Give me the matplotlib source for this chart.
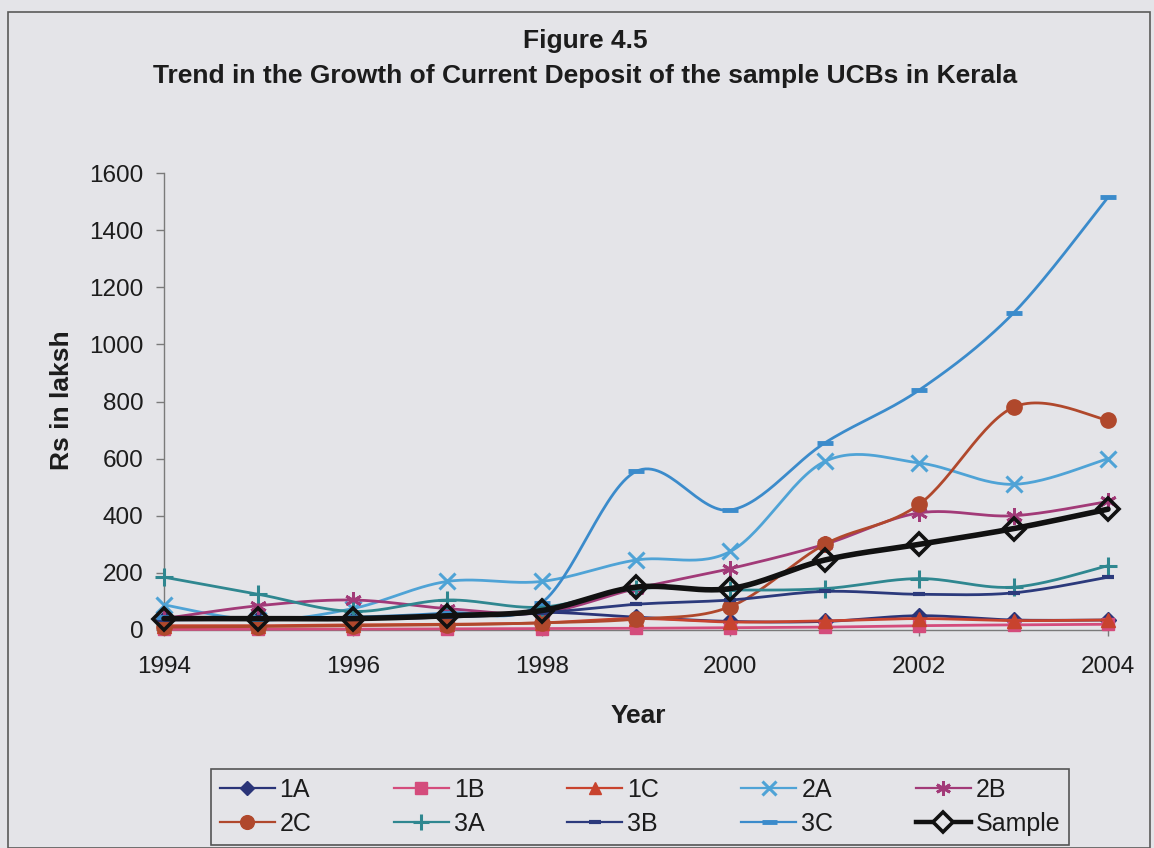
import numpy as np
import matplotlib
matplotlib.use("Agg")
import matplotlib.pyplot as plt
from matplotlib.lines import Line2D
from matplotlib.patches import Rectangle

plt.rcParams['font.family'] = ['Liberation Sans', 'DejaVu Sans']

# ---- data (Rs in laksh) ----
years = [1994, 1995, 1996, 1997, 1998, 1999, 2000, 2001, 2002, 2003, 2004]
bank_1A = [40, 40, 40, 45, 62, 45, 30, 30, 50, 35, 35]
bank_1B = [2, 3, 3, 4, 5, 6, 8, 10, 15, 18, 20]
bank_1C = [15, 15, 18, 20, 25, 40, 28, 32, 40, 33, 35]
bank_2A = [88, 35, 75, 170, 170, 245, 275, 590, 585, 510, 600]
bank_2B = [40, 85, 105, 75, 60, 145, 215, 300, 410, 400, 450]
bank_2C = [10, 12, 15, 18, 25, 38, 82, 300, 440, 780, 735]
bank_3A = [185, 125, 65, 105, 80, 145, 140, 145, 180, 150, 225]
bank_3B = [35, 38, 40, 45, 60, 90, 105, 135, 125, 130, 185]
bank_3C = [45, 40, 45, 60, 95, 555, 420, 655, 840, 1110, 1515]
sample = [40, 40, 40, 50, 68, 150, 145, 245, 300, 355, 423]

series_names = ["1A", "1B", "1C", "2A", "2B", "2C", "3A", "3B", "3C", "Sample"]
series_values = [bank_1A, bank_1B, bank_1C, bank_2A, bank_2B, bank_2C,
                 bank_3A, bank_3B, bank_3C, sample]

y_ticks = [0, 200, 400, 600, 800, 1000, 1200, 1400, 1600]
x_ticks = [1994, 1996, 1998, 2000, 2002, 2004]

title_line1 = "Figure 4.5"
title_line2 = "Trend in the Growth of Current Deposit of the sample UCBs in Kerala"

# ---- styles ----
asterisk = (6, 2, 0)
styles = {
    "1A": dict(color='#2a3478', marker='D', ms=8, mfc='#2a3478', mec='#2a3478', mew=1, lw=2.0),
    "1B": dict(color='#d44c7c', marker='s', ms=9, mfc='#d44c7c', mec='#d44c7c', mew=1, lw=2.0),
    "1C": dict(color='#c8432e', marker='^', ms=10, mfc='#c8432e', mec='#c8432e', mew=1, lw=2.0),
    "2A": dict(color='#4fa3d6', marker='x', ms=11, mfc='none', mec='#4fa3d6', mew=2.2, lw=2.0),
    "2B": dict(color='#a23a78', marker=asterisk, ms=12, mfc='none', mec='#a23a78', mew=2.0, lw=2.0),
    "2C": dict(color='#b0482c', marker='o', ms=11, mfc='#b0482c', mec='#b0482c', mew=1, lw=2.0),
    "3A": dict(color='#2f8790', marker='+', ms=13, mfc='none', mec='#2f8790', mew=2.2, lw=2.0),
    "3B": dict(color='#2c3a7c', marker='_', ms=9, mfc='none', mec='#2c3a7c', mew=3.0, lw=2.0),
    "3C": dict(color='#3b8bcb', marker='_', ms=12, mfc='none', mec='#3b8bcb', mew=3.5, lw=2.0),
    "Sample": dict(color='#111111', marker='D', ms=11, mfc='none', mec='#111111', mew=2.6, lw=4.0),
}

BG = '#e4e4e8'
TXT = '#1c1c1c'


def smooth_curve(xs, ys, n=30):
    """Cardinal (Catmull-Rom) Bezier smoothing through every point."""
    p = np.column_stack([np.asarray(xs, float), np.asarray(ys, float)])
    m = len(p)
    out = []
    for i in range(m - 1):
        p0 = p[i - 1] if i > 0 else p[i]
        p1, p2 = p[i], p[i + 1]
        p3 = p[i + 2] if i + 2 < m else p[i + 1]
        c1 = p1 + (p2 - p0) / 6.0
        c2 = p2 - (p3 - p1) / 6.0
        t = np.linspace(0, 1, n, endpoint=(i == m - 2))[:, None]
        seg = ((1 - t) ** 3) * p1 + 3 * ((1 - t) ** 2) * t * c1 \
            + 3 * (1 - t) * (t ** 2) * c2 + (t ** 3) * p2
        out.append(seg)
    c = np.vstack(out)
    return c[:, 0], c[:, 1]


W, H = 1154, 848
fig = plt.figure(figsize=(W / 100, H / 100), dpi=100, facecolor=BG)

# outer chart border
fig.add_artist(Rectangle((8 / W, 0.0), (1150 - 8) / W, 1 - 12 / H,
                         transform=fig.transFigure, fill=False,
                         edgecolor='#5a5a5a', lw=1.2))

left, right, top, bottom = 164, 1108, 173, 630
ax = fig.add_axes([left / W, 1 - bottom / H, (right - left) / W, (bottom - top) / H])
ax.set_facecolor('none')

handles = {}
for k, (name, vals) in enumerate(zip(series_names, series_values)):
    st = styles[name]
    sx, sy = smooth_curve(years, vals)
    z = 3 + k
    ax.plot(sx, sy, color=st['color'], lw=st['lw'], solid_capstyle='round',
            zorder=z, clip_on=False)
    ax.plot(years, vals, ls='none', marker=st['marker'], ms=st['ms'],
            mfc=st['mfc'], mec=st['mec'], mew=st['mew'], zorder=z + 0.5, clip_on=False)
    handles[name] = Line2D([], [], color=st['color'], lw=st['lw'] * 0.8,
                           marker=st['marker'], ms=st['ms'] * 0.9,
                           mfc=(BG if name == 'Sample' else st['mfc']),
                           mec=st['mec'], mew=st['mew'], label=name)

ax.set_xlim(1994, 2004)
ax.set_ylim(0, 1600)
ax.set_xticks(x_ticks)
ax.set_xticklabels([str(v) for v in x_ticks])
ax.set_yticks(y_ticks)
ax.set_yticklabels([str(v) for v in y_ticks])

for s in ('top', 'right'):
    ax.spines[s].set_visible(False)
for s in ('left', 'bottom'):
    ax.spines[s].set_color('#7a7a7a')
    ax.spines[s].set_linewidth(1.0)

ax.tick_params(axis='y', direction='out', length=6, width=1, color='#7a7a7a',
               labelsize=17.5, labelcolor=TXT, pad=9)
ax.tick_params(axis='x', direction='out', length=4, width=1, color='#7a7a7a',
               labelsize=17.5, labelcolor=TXT, pad=15)

# axis titles
fig.text(62 / W, 1 - 400 / H, "Rs in laksh", rotation=90, ha='center', va='center',
         fontsize=19, fontweight='bold', color=TXT)
fig.text(638 / W, 1 - 716 / H, "Year", ha='center', va='center',
         fontsize=19, fontweight='bold', color=TXT)

# chart title
fig.text(585 / W, 1 - 48 / H, title_line1, ha='center', va='baseline',
         fontsize=19, fontweight='bold', color=TXT)
fig.text(585 / W, 1 - 83 / H, title_line2, ha='center', va='baseline',
         fontsize=19, fontweight='bold', color=TXT)

# legend: two rows of five, filled row by row
ncol = 5
rows = [series_names[:ncol], series_names[ncol:]]
ordered = [handles[rows[r][c]] for c in range(ncol) for r in range(2)]
leg = fig.legend(handles=ordered, loc='center', ncol=ncol,
                 bbox_to_anchor=((207 + 1073) / 2 / W, 1 - 807 / H),
                 fontsize=18, frameon=True, fancybox=False, framealpha=1,
                 facecolor=BG, edgecolor='#555555', handlelength=2.2,
                 handletextpad=0.2, columnspacing=3.3, labelspacing=0.4,
                 borderpad=0.35)
leg.get_frame().set_linewidth(1.2)
for t in leg.get_texts():
    t.set_color(TXT)

fig.savefig("out.png", dpi=100, facecolor=BG)
